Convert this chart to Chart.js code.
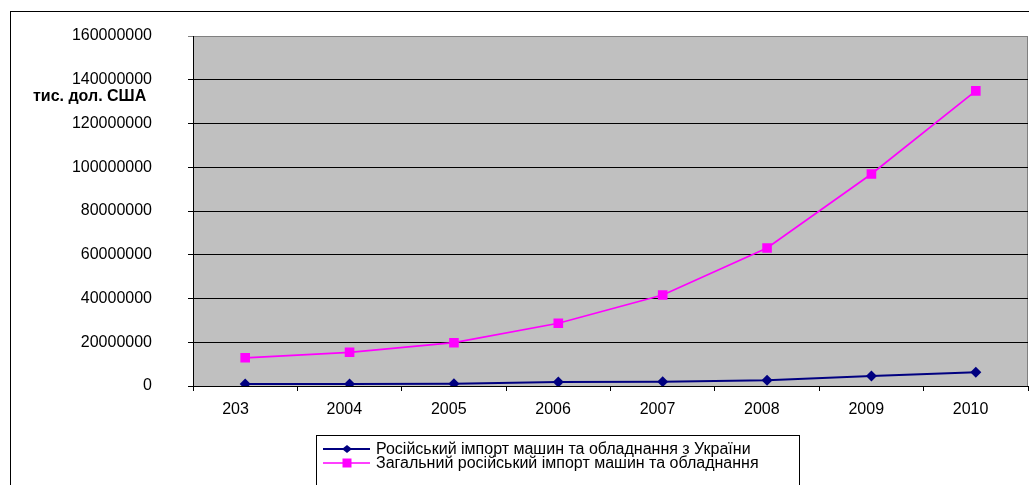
<!DOCTYPE html>
<html>
<head>
<meta charset="utf-8">
<script src="https://cdn.jsdelivr.net/npm/chart.js@4.4.1/dist/chart.umd.min.js"></script>
<style>
html,body{margin:0;padding:0;background:#fff;}
#wrap{position:relative;width:1029px;height:485px;}
</style>
</head>
<body>
<div id="wrap"><canvas id="c" width="1029" height="485"></canvas></div>
<script>
const categories = ['203', '2004', '2005', '2006', '2007', '2008', '2009', '2010'];
const ukraineImport = [900000, 900000, 1050000, 1800000, 2000000, 2600000, 4600000, 6300000];
const totalImport = [12900000, 15400000, 19800000, 28700000, 41600000, 63100000, 96900000, 134900000];
const seriesLabels = ['Російський імпорт машин та обладнання з України', 'Загальний російський імпорт машин та обладнання'];
const yAxisTitle = 'тис. дол. США';
const yMin = 0, yMax = 160000000, yStep = 20000000;

const FONT = '"Liberation Sans", Arial, sans-serif';

const decor = {
  id: 'decor',
  beforeDraw(chart) {
    const {ctx, chartArea: a} = chart;
    ctx.save();
    ctx.fillStyle = '#fff';
    ctx.fillRect(0, 0, chart.width, chart.height);
    ctx.strokeStyle = '#000';
    ctx.lineWidth = 1;
    ctx.strokeRect(10.5, 11.5, 1040, 500);
    ctx.fillStyle = '#c0c0c0';
    ctx.fillRect(a.left, a.top, a.right - a.left, a.bottom - a.top);
    ctx.strokeStyle = '#808080';
    ctx.beginPath();
    ctx.moveTo(a.left, a.top + 0.5); ctx.lineTo(a.right - 0.5, a.top + 0.5);
    ctx.lineTo(a.right - 0.5, a.bottom);
    ctx.stroke();
    ctx.restore();
  },
  afterDraw(chart) {
    const {ctx} = chart;
    ctx.save();
    ctx.font = 'bold 16px ' + FONT;
    ctx.fillStyle = '#000';
    ctx.textBaseline = 'middle';
    ctx.textAlign = 'left';
    ctx.fillText(yAxisTitle, 33, 97);
    ctx.fillStyle = '#fff';
    ctx.fillRect(316, 435, 484, 60);
    ctx.strokeStyle = '#000';
    ctx.lineWidth = 1;
    ctx.strokeRect(316.5, 435.5, 483, 60);
    const rows = [449, 463];
    chart.data.datasets.forEach((ds, i) => {
      const y = rows[i];
      ctx.strokeStyle = ds.borderColor;
      ctx.lineWidth = ds.borderWidth;
      ctx.beginPath();
      ctx.moveTo(323, y); ctx.lineTo(370, y);
      ctx.stroke();
      ctx.fillStyle = ds.backgroundColor;
      ctx.beginPath();
      if (ds.pointStyle === 'rectRot') {
        ctx.moveTo(347 - 5, y); ctx.lineTo(347, y - 4); ctx.lineTo(347 + 5, y); ctx.lineTo(347, y + 4);
        ctx.closePath();
      } else {
        ctx.rect(347 - 4.5, y - 4.5, 9, 9);
      }
      ctx.fill();
      ctx.fillStyle = '#000';
      ctx.font = '16px ' + FONT;
      ctx.textAlign = 'left';
      ctx.textBaseline = 'middle';
      ctx.fillText(ds.label, 376, y + 1);
    });
    ctx.restore();
  }
};

new Chart(document.getElementById('c'), {
  type: 'line',
  data: {
    labels: categories,
    datasets: [
      {
        label: seriesLabels[0],
        data: ukraineImport,
        borderColor: '#000080',
        backgroundColor: '#000080',
        borderWidth: 2,
        pointStyle: 'rectRot',
        pointRadius: 5.5,
        pointHoverRadius: 5.5,
        pointBorderWidth: 0,
        tension: 0
      },
      {
        label: seriesLabels[1],
        data: totalImport,
        borderColor: '#ff00ff',
        backgroundColor: '#ff00ff',
        borderWidth: 1.7,
        pointStyle: 'rect',
        pointRadius: 6.8,
        pointHoverRadius: 6.8,
        pointBorderWidth: 0,
        tension: 0
      }
    ]
  },
  options: {
    responsive: false,
    animation: false,
    layout: { autoPadding: false, padding: { top: 36, right: 1, left: 0, bottom: 0 } },
    plugins: { legend: { display: false }, tooltip: { enabled: false }, title: { display: false } },
    scales: {
      x: {
        offset: true,
        grid: { offset: true, drawOnChartArea: false, drawTicks: true, tickLength: 5, color: '#000', lineWidth: 1 },
        border: { color: '#000', width: 1 },
        ticks: { color: '#000', font: { family: FONT, size: 16 }, padding: 9, maxRotation: 0, autoSkip: false, align: 'start', labelOffset: -23 },
        afterFit(scale) { scale.height = 99; scale.paddingLeft = 0; scale.paddingRight = 0; }
      },
      y: {
        min: yMin, max: yMax,
        grid: {
          color: (c) => (c.tick && c.tick.value === yMax ? '#808080' : '#000'),
          lineWidth: 1, tickLength: 5, drawTicks: true
        },
        border: { color: '#000', width: 1 },
        ticks: {
          stepSize: yStep, color: '#000', font: { family: FONT, size: 16 }, padding: 36,
          callback: (v) => String(v)
        },
        afterFit(scale) { scale.width = 193; scale.paddingTop = 0; scale.paddingBottom = 0; }
      }
    }
  },
  plugins: [decor]
});
</script>
</body>
</html>
